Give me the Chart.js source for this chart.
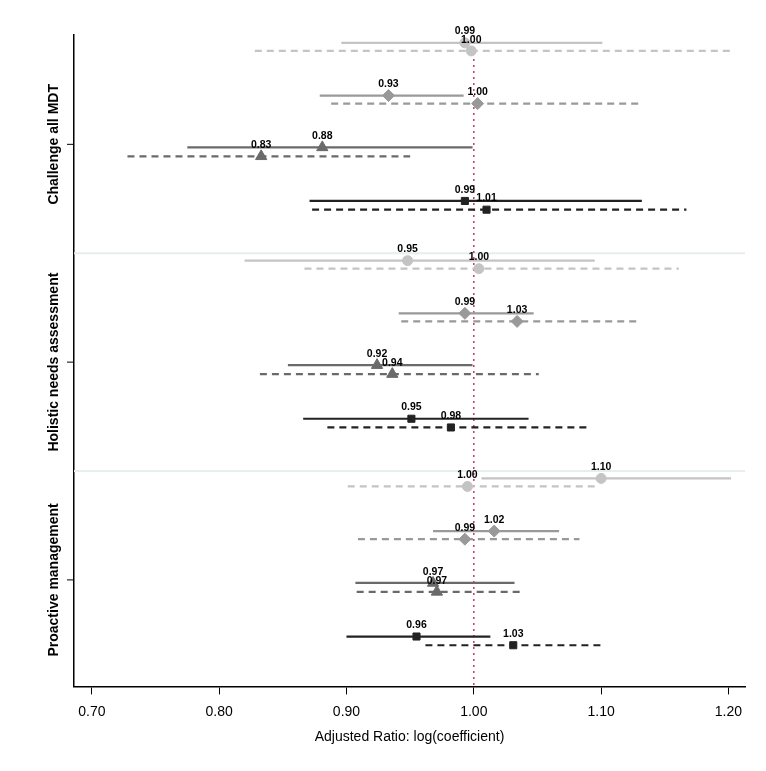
<!DOCTYPE html>
<html><head><meta charset="utf-8">
<script src="https://cdn.jsdelivr.net/npm/chart.js@4.4.1/dist/chart.umd.min.js"></script>
<style>html,body{margin:0;background:#fff}#w{width:766px;height:771px}</style>
</head><body><div id="w"><canvas id="c"></canvas></div>
<script>
const groups = ["Challenge all MDT","Holistic needs assessment","Proactive management"];
const xTicks = [0.70,0.80,0.90,1.00,1.10,1.20];
// series: circle solid/dashed, diamond solid/dashed, triangle solid/dashed, square solid/dashed
const cS_est=[0.993,0.948,1.100], cS_lo=[0.896,0.820,1.006], cS_hi=[1.101,1.095,1.202], cS_lab=["0.99","0.95","1.10"];
const cD_est=[0.998,1.004,0.995], cD_lo=[0.828,0.867,0.901], cD_hi=[1.203,1.161,1.096], cD_lab=["1.00","1.00","1.00"];
const dS_est=[0.933,0.993,1.016], dS_lo=[0.879,0.941,0.968], dS_hi=[0.992,1.047,1.067], dS_lab=["0.93","0.99","1.02"];
const dD_est=[1.003,1.034,0.993], dD_lo=[0.888,0.943,0.909], dD_hi=[1.132,1.129,1.083], dD_lab=["1.00","1.03","0.99"];
const tS_est=[0.881,0.924,0.968], tS_lo=[0.775,0.854,0.907], tS_hi=[0.999,0.999,1.032], tS_lab=["0.88","0.92","0.97"];
const tD_est=[0.833,0.936,0.971], tD_lo=[0.728,0.832,0.908], tD_hi=[0.950,1.051,1.037], tD_lab=["0.83","0.94","0.97"];
const sS_est=[0.993,0.951,0.955], sS_lo=[0.871,0.866,0.900], sS_hi=[1.132,1.043,1.013], sS_lab=["0.99","0.95","0.96"];
const sD_est=[1.010,0.982,1.031], sD_lo=[0.873,0.885,0.962], sD_hi=[1.167,1.089,1.102], sD_lab=["1.01","0.98","1.03"];

const series=[
 {est:cS_est,lo:cS_lo,hi:cS_hi,lab:cS_lab,col:'#c4c4c4',shape:'circle',dash:[],off:-0.466},
 {est:cD_est,lo:cD_lo,hi:cD_hi,lab:cD_lab,col:'#c4c4c4',shape:'circle',dash:[7,5],off:-0.429},
 {est:dS_est,lo:dS_lo,hi:dS_hi,lab:dS_lab,col:'#999999',shape:'rectRot',dash:[],off:-0.224},
 {est:dD_est,lo:dD_lo,hi:dD_hi,lab:dD_lab,col:'#999999',shape:'rectRot',dash:[7,5],off:-0.187},
 {est:tS_est,lo:tS_lo,hi:tS_hi,lab:tS_lab,col:'#6a6a6a',shape:'triangle',dash:[],off:0.014},
 {est:tD_est,lo:tD_lo,hi:tD_hi,lab:tD_lab,col:'#6a6a6a',shape:'triangle',dash:[7,5],off:0.055},
 {est:sS_est,lo:sS_lo,hi:sS_hi,lab:sS_lab,col:'#222222',shape:'rect',dash:[],off:0.26},
 {est:sD_est,lo:sD_lo,hi:sD_hi,lab:sD_lab,col:'#222222',shape:'rect',dash:[7,5],off:0.30}
];

const datasets=[];
series.forEach(s=>{
  groups.forEach((g,i)=>{
    datasets.push({type:'line',data:[{x:s.lo[i],y:i+s.off},{x:s.hi[i],y:i+s.off}],borderColor:s.col,borderWidth:2.2,borderDash:s.dash,pointRadius:0,fill:false});
  });
});
series.forEach(s=>{
  datasets.push({type:'scatter',data:groups.map((g,i)=>({x:s.est[i],y:i+s.off,lab:s.lab[i]})),
    pointStyle:s.shape,backgroundColor:s.col,borderColor:s.col,pointRadius:s.shape==='rectRot'?6:(s.shape==='triangle'?6.5:5),labels:true});
});

const deco={id:'deco',
 beforeDatasetsDraw(ch){
   const c=ch.ctx,x=ch.scales.x,y=ch.scales.y,a=ch.chartArea;
   c.save();
   c.strokeStyle='#e6eef0';c.lineWidth=2;
   [0.5,1.5].forEach(v=>{const p=y.getPixelForValue(v);c.beginPath();c.moveTo(a.left,p);c.lineTo(a.right,p);c.stroke();});
   c.strokeStyle='#d6336c';c.lineWidth=1.5;c.setLineDash([2,4]);
   const px=x.getPixelForValue(1.0);c.beginPath();c.moveTo(px,a.top);c.lineTo(px,a.bottom);c.stroke();
   c.restore();
 },
 afterDraw(ch){
   const c=ch.ctx,x=ch.scales.x,y=ch.scales.y,a=ch.chartArea;
   c.save();
   c.fillStyle='#000';c.strokeStyle='#000';c.lineWidth=1;
   groups.forEach((g,i)=>{
     const p=y.getPixelForValue(i);
     c.beginPath();c.moveTo(a.left-7,p);c.lineTo(a.left,p);c.stroke();
     c.save();c.translate(54,p);c.rotate(-Math.PI/2);
     c.font='bold 14px "Liberation Sans", Arial';c.textAlign='center';c.textBaseline='middle';
     c.fillText(g,0,0);c.restore();
   });
   c.font='bold 10.5px "Liberation Sans", Arial';c.textAlign='center';c.textBaseline='bottom';
   ch.data.datasets.forEach((d,di)=>{
     if(!d.labels)return;
     d.data.forEach(pt=>{c.fillText(pt.lab,x.getPixelForValue(pt.x),y.getPixelForValue(pt.y)-6);});
   });
   c.restore();
 }};

new Chart(document.getElementById('c'),{
 data:{datasets},
 options:{responsive:true,maintainAspectRatio:false,animation:false,
  layout:{padding:{left:66,right:21,top:35,bottom:21}},
  plugins:{legend:{display:false},tooltip:{enabled:false}},
  scales:{
   x:{type:'linear',min:0.686,max:1.213,
     afterBuildTicks(ax){ax.ticks=xTicks.map(v=>({value:v}));},
     ticks:{callback:v=>v.toFixed(2),color:'#000',font:{size:14,family:'"Liberation Sans", Arial'},padding:9,maxRotation:0},
     grid:{display:true,drawOnChartArea:false,drawTicks:true,tickLength:8,color:'#000'},
     border:{display:true,color:'#000',width:1.5},
     title:{display:true,text:'Adjusted Ratio: log(coefficient)',color:'#000',font:{size:14,family:'"Liberation Sans", Arial'},padding:{top:0}}},
   y:{type:'linear',reverse:true,min:-0.502,max:2.489,
     ticks:{display:false},grid:{display:false},
     border:{display:true,color:'#000',width:1.5}}
  }},
 plugins:[deco]
});
</script></body></html>
